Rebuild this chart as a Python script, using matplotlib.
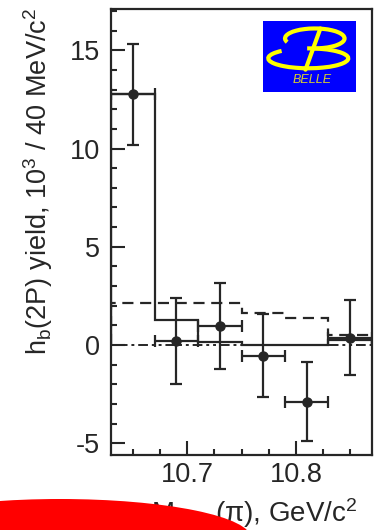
import matplotlib
matplotlib.use("Agg")
import matplotlib.pyplot as plt
from matplotlib.patches import Arc, Ellipse
import numpy as np

plt.rcParams['font.family'] = ['Liberation Sans', 'DejaVu Sans']
plt.rcParams['axes.unicode_minus'] = False
plt.rcParams['mathtext.fontset'] = 'custom'
plt.rcParams['mathtext.rm'] = 'Liberation Sans'
plt.rcParams['mathtext.it'] = 'Liberation Sans:italic'

# Missing-mass bins (40 MeV wide)
bin_edges = [10.63, 10.67, 10.71, 10.75, 10.79, 10.83, 10.87]
x_centers = [10.65, 10.69, 10.73, 10.77, 10.81, 10.85]
x_halfwidth = [0.02, 0.02, 0.02, 0.02, 0.02, 0.02]

# h_b(2P) yield per bin, 10^3 events
yield_vals = [12.75, 0.2, 0.96, -0.54, -2.88, 0.37]
yield_errs = [2.55, 2.2, 2.2, 2.1, 2.0, 1.9]

# Fit components
fit_total = [12.75, 1.27, 0.17, 0.0, 0.0, 0.25]
fit_dashed = [2.12, 2.12, 2.12, 1.64, 1.36, 0.5]
fit_dashdot = [0.0, 0.0, 0.0, 0.0, 0.0, 0.0]

ink = '#262626'

fig = plt.figure(figsize=(3.82, 5.30), dpi=100)
ax = fig.add_axes([0.2906, 0.1415, 0.6832, 0.8415])

ax.stairs(fit_dashdot, bin_edges, color=ink, lw=1.4, ls=(0, (5, 2, 1.5, 2, 1.5, 2)))
ax.stairs(fit_dashed, bin_edges, color=ink, lw=1.6, ls=(0, (5, 3)))
ax.stairs(fit_total, bin_edges, color=ink, lw=1.6)

ax.errorbar(x_centers, yield_vals, yerr=yield_errs, xerr=x_halfwidth,
            fmt='o', color=ink, ms=6.5, elinewidth=1.6, capsize=4, capthick=1.6)

ax.set_xlim(10.63, 10.87)
ax.set_ylim(-5.6, 17.1)
ax.set_xticks([10.7, 10.8])
ax.set_xticklabels(['10.7', '10.8'])
ax.set_xticks(np.arange(10.65, 10.87, 0.025), minor=True)
ax.set_yticks([-5, 0, 5, 10, 15])
ax.set_yticks(np.arange(-5, 18, 1), minor=True)

ax.tick_params(which='both', direction='in', top=False, right=False,
               color=ink, width=1.5, labelsize=19.5, labelcolor=ink)
ax.tick_params(which='major', length=10)
ax.tick_params(which='minor', length=4.5)
ax.tick_params(axis='y', pad=8)
ax.tick_params(axis='x', pad=5)
for s in ax.spines.values():
    s.set_linewidth(1.6)
    s.set_color(ink)

fig.text(38 / 382, 1 - 181 / 530,
         r"h$_{\rm b}$(2P) yield, 10$^{3}$ / 40 MeV/c$^{2}$",
         rotation=90, ha='center', va='center', fontsize=19.5, color=ink)
fig.text(357 / 382, 1 - 522 / 530,
         "M$_{\\rm miss}$(\u03c0), GeV/c$^{2}$",
         ha='right', va='baseline', fontsize=20, color=ink)

# Belle logo
logo = fig.add_axes([0.6877, 0.827, 0.2435, 0.134])
logo.set_xlim(0, 1)
logo.set_ylim(0, 1)
logo.set_facecolor('#0000ff')
logo.set_xticks([])
logo.set_yticks([])
for s in logo.spines.values():
    s.set_visible(False)
yel = '#ffff00'
logo.add_patch(Arc((0.56, 0.75), 0.64, 0.28, theta1=-95, theta2=190,
                   color=yel, lw=3))
logo.add_patch(Arc((0.49, 0.47), 0.86, 0.28, theta1=160, theta2=455,
                   color=yel, lw=3))
logo.plot([0.46, 0.62], [0.31, 0.89], color=yel, lw=3, solid_capstyle='round')
logo.text(0.53, 0.16, 'BELLE', ha='center', va='center', fontsize=9,
          style='italic', color='#d8d030')

# Red overlay at the bottom
fig.patches.append(Ellipse((60 / 382, 1 - 538 / 530), 2 * 191 / 382, 2 * 39 / 530,
                           transform=fig.transFigure, facecolor='#ff0000',
                           edgecolor='none', zorder=10))

fig.savefig('out.png', dpi=100)
